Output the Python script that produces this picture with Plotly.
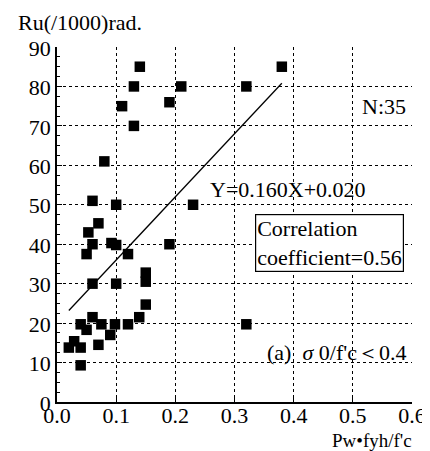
import plotly.graph_objects as go

# Data
x_vals = [0.14, 0.13, 0.11, 0.13, 0.19, 0.21, 0.32, 0.38,
          0.08, 0.06, 0.10, 0.23,
          0.07, 0.053, 0.06, 0.092, 0.10, 0.05, 0.12, 0.19,
          0.06, 0.10, 0.15, 0.15, 0.15, 0.139,
          0.12, 0.098, 0.075, 0.06, 0.05, 0.04, 0.09,
          0.07, 0.02, 0.029, 0.04, 0.04, 0.32]
y_vals = [85, 80, 75, 70, 76, 80, 80, 85,
          61, 51, 50, 50,
          45.3, 43, 40, 40.3, 39.8, 37.5, 37.5, 40,
          30, 30, 32.8, 30.5, 24.7, 21.5,
          19.7, 19.7, 19.7, 21.5, 18.3, 19.7, 17,
          14.5, 13.8, 15.4, 13.8, 9.3, 19.7]

fit_x = [0.02, 0.38]
slope = 160
intercept = 20

x_ticks = [0.0, 0.1, 0.2, 0.3, 0.4, 0.5, 0.6]
x_tick_labels = ["0.0", "0.1", "0.2", "0.3", "0.4", "0.5", "0.6"]
y_ticks = [0, 10, 20, 30, 40, 50, 60, 70, 80, 90]

FONT = "Liberation Serif, Times New Roman, serif"
FS = 22

fig = go.Figure()
fig.add_trace(go.Scatter(
    x=x_vals, y=y_vals, mode="markers",
    marker=dict(symbol="square", size=10.5, color="black"),
    showlegend=False, hoverinfo="skip"))
fig.add_trace(go.Scatter(
    x=fit_x, y=[slope * v + intercept for v in fit_x], mode="lines",
    line=dict(color="black", width=1.3), showlegend=False, hoverinfo="skip"))

fig.update_layout(
    width=430, height=451,
    margin=dict(l=49, r=18, t=39, b=57),
    paper_bgcolor="white", plot_bgcolor="white",
    font=dict(family=FONT, color="black", size=FS),
    xaxis=dict(range=[0, 0.6], tickvals=x_ticks, ticktext=x_tick_labels,
               showgrid=True, gridcolor="black", griddash="dot", gridwidth=1,
               zeroline=False, showline=True, linecolor="black", linewidth=1.8,
               ticks="inside", ticklen=5, tickcolor="black", ticklabelstandoff=-7,
               tickfont=dict(family=FONT, size=FS)),
    yaxis=dict(range=[0, 90], tickvals=y_ticks,
               showgrid=True, gridcolor="black", griddash="dot", gridwidth=1,
               zeroline=False, showline=True, linecolor="black", linewidth=1.8,
               ticks="inside", ticklen=5, tickcolor="black", ticklabelshift=1,
               minor=dict(dtick=2.5, ticks="inside", ticklen=3, tickcolor="black", showgrid=False),
               tickfont=dict(family=FONT, size=FS)),
)

annos = [
    dict(x=0, y=1, xref="paper", yref="paper", xshift=-41, yshift=10,
         text="Ru(/1000)rad.", showarrow=False, xanchor="left", yanchor="bottom",
         font=dict(family=FONT, size=FS)),
    dict(x=1, y=0, xref="paper", yref="paper", yshift=-51, xshift=2,
         text="Pw•fyh/f'c", showarrow=False, xanchor="right", yanchor="bottom",
         font=dict(family=FONT, size=19)),
    dict(x=0.594, y=75, xref="x", yref="y", text="N:35", showarrow=False,
         xanchor="right", yanchor="middle", font=dict(family=FONT, size=FS)),
    dict(x=0.255, y=54, xref="x", yref="y", text="Y=0.160X+0.020", showarrow=False,
         xanchor="left", yanchor="middle", font=dict(family=FONT, size=FS)),
    dict(x=0.335, y=40.2, xref="x", yref="y", text="Correlation<br>coefficient=0.56",
         showarrow=False, xanchor="left", yanchor="middle", align="left",
         bordercolor="black", borderwidth=1.2, borderpad=1, bgcolor="white",
         font=dict(family=FONT, size=FS)),
    dict(x=0.594, y=12.5, xref="x", yref="y", text="(a)  <i>σ</i> 0/f'c＜0.4",
         showarrow=False, xanchor="right", yanchor="middle",
         font=dict(family=FONT, size=FS)),
]
fig.update_layout(annotations=annos)

fig.write_html("out.html")
